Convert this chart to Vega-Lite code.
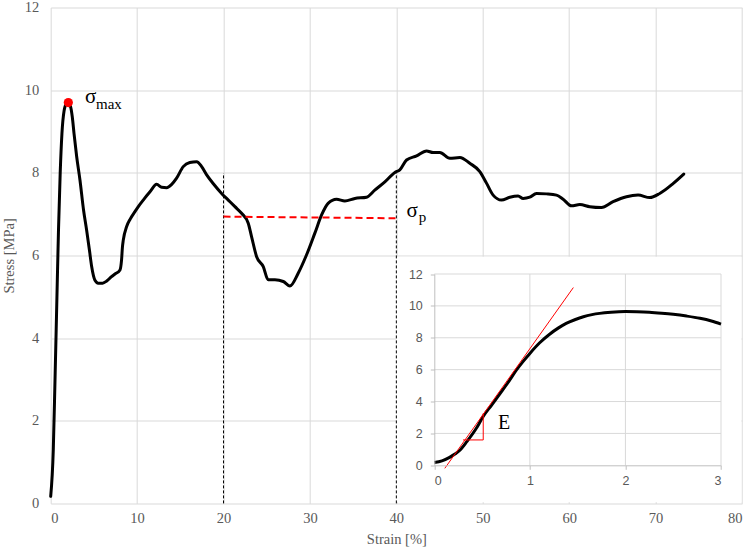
{
  "$schema": "https://vega.github.io/schema/vega-lite/v6.json",
  "width": 691.3,
  "height": 495.9,
  "autosize": {"type": "none"},
  "padding": {"left": 50.7, "top": 7.5, "right": 9, "bottom": 48.6},
  "background": "white",
  "config": {
    "view": {"stroke": null},
    "axis": {
      "gridColor": "#d9d9d9",
      "gridWidth": 1,
      "labelColor": "#595959",
      "titleColor": "#595959",
      "titleFontWeight": "normal"
    }
  },
  "datasets": {
    "main": [
      {"strain": 0, "stress": 0.17}, {"strain": 0.3, "stress": 1.3}, {"strain": 0.5, "stress": 3.0},
      {"strain": 0.7, "stress": 4.8}, {"strain": 0.9, "stress": 6.6}, {"strain": 1.1, "stress": 8.0},
      {"strain": 1.3, "stress": 8.95}, {"strain": 1.55, "stress": 9.5}, {"strain": 1.8, "stress": 9.66},
      {"strain": 2.05, "stress": 9.68}, {"strain": 2.3, "stress": 9.6}, {"strain": 2.5, "stress": 9.35},
      {"strain": 2.7, "stress": 8.95}, {"strain": 3.0, "stress": 8.4}, {"strain": 3.39, "stress": 7.82},
      {"strain": 3.8, "stress": 7.1}, {"strain": 4.16, "stress": 6.61}, {"strain": 4.5, "stress": 6.1},
      {"strain": 4.74, "stress": 5.73}, {"strain": 5.12, "stress": 5.4}, {"strain": 5.5, "stress": 5.33},
      {"strain": 6.0, "stress": 5.33}, {"strain": 6.48, "stress": 5.38}, {"strain": 7.0, "stress": 5.48},
      {"strain": 7.44, "stress": 5.55}, {"strain": 8.02, "stress": 5.65}, {"strain": 8.2, "stress": 5.89},
      {"strain": 8.3, "stress": 6.2}, {"strain": 8.4, "stress": 6.37}, {"strain": 8.79, "stress": 6.7},
      {"strain": 9.2, "stress": 6.88}, {"strain": 9.75, "stress": 7.06}, {"strain": 10.2, "stress": 7.2},
      {"strain": 10.71, "stress": 7.34}, {"strain": 11.49, "stress": 7.54}, {"strain": 12.26, "stress": 7.72},
      {"strain": 12.84, "stress": 7.65}, {"strain": 13.42, "stress": 7.64}, {"strain": 14.0, "stress": 7.72},
      {"strain": 14.57, "stress": 7.87}, {"strain": 15.34, "stress": 8.15}, {"strain": 16.1, "stress": 8.25},
      {"strain": 16.89, "stress": 8.27}, {"strain": 17.47, "stress": 8.15}, {"strain": 18.05, "stress": 7.95},
      {"strain": 18.8, "stress": 7.74}, {"strain": 19.78, "stress": 7.5}, {"strain": 20.55, "stress": 7.34},
      {"strain": 21.32, "stress": 7.18}, {"strain": 22.09, "stress": 7.02}, {"strain": 22.86, "stress": 6.78},
      {"strain": 23.25, "stress": 6.45}, {"strain": 23.83, "stress": 5.97}, {"strain": 24.6, "stress": 5.73},
      {"strain": 25.17, "stress": 5.41}, {"strain": 25.95, "stress": 5.41}, {"strain": 26.91, "stress": 5.37},
      {"strain": 27.68, "stress": 5.26}, {"strain": 28.64, "stress": 5.57}, {"strain": 29.6, "stress": 6.01},
      {"strain": 30.57, "stress": 6.54}, {"strain": 31.35, "stress": 6.98}, {"strain": 32.1, "stress": 7.26},
      {"strain": 33.08, "stress": 7.36}, {"strain": 34.04, "stress": 7.32}, {"strain": 35.2, "stress": 7.38},
      {"strain": 36.55, "stress": 7.41}, {"strain": 37.5, "stress": 7.58}, {"strain": 38.67, "stress": 7.78},
      {"strain": 39.83, "stress": 8.01}, {"strain": 40.4, "stress": 8.07}, {"strain": 41.18, "stress": 8.31},
      {"strain": 42.34, "stress": 8.41}, {"strain": 43.49, "stress": 8.53}, {"strain": 44.26, "stress": 8.49},
      {"strain": 45.03, "stress": 8.49}, {"strain": 46.19, "stress": 8.35}, {"strain": 47.35, "stress": 8.37},
      {"strain": 48.5, "stress": 8.23}, {"strain": 49.66, "stress": 8.03}, {"strain": 50.43, "stress": 7.75},
      {"strain": 51.2, "stress": 7.46}, {"strain": 52.17, "stress": 7.34}, {"strain": 53.13, "stress": 7.41},
      {"strain": 54.09, "stress": 7.44}, {"strain": 54.67, "stress": 7.38}, {"strain": 55.44, "stress": 7.41},
      {"strain": 56.22, "stress": 7.5}, {"strain": 57.37, "stress": 7.49}, {"strain": 58.53, "stress": 7.46},
      {"strain": 59.3, "stress": 7.36}, {"strain": 60.27, "stress": 7.2}, {"strain": 61.23, "stress": 7.23},
      {"strain": 62.38, "stress": 7.18}, {"strain": 63.73, "stress": 7.16}, {"strain": 65.08, "stress": 7.3},
      {"strain": 66.63, "stress": 7.42}, {"strain": 67.97, "stress": 7.46}, {"strain": 69.33, "stress": 7.4},
      {"strain": 70.48, "stress": 7.5}, {"strain": 72.02, "stress": 7.74}, {"strain": 73.26, "stress": 7.97}
    ],
    "inset": [
      {"strain": 0, "stress": 0.17}, {"strain": 0.08, "stress": 0.28}, {"strain": 0.16, "stress": 0.5},
      {"strain": 0.22, "stress": 0.72}, {"strain": 0.27, "stress": 0.96}, {"strain": 0.34, "stress": 1.48},
      {"strain": 0.44, "stress": 2.32}, {"strain": 0.51, "stress": 3.05}, {"strain": 0.6, "stress": 3.78},
      {"strain": 0.69, "stress": 4.52}, {"strain": 0.78, "stress": 5.27}, {"strain": 0.86, "stress": 5.98},
      {"strain": 0.93, "stress": 6.52}, {"strain": 1.0, "stress": 7.02}, {"strain": 1.1, "stress": 7.67},
      {"strain": 1.21, "stress": 8.24}, {"strain": 1.3, "stress": 8.62}, {"strain": 1.38, "stress": 8.9},
      {"strain": 1.47, "stress": 9.13}, {"strain": 1.56, "stress": 9.32}, {"strain": 1.65, "stress": 9.45},
      {"strain": 1.73, "stress": 9.53}, {"strain": 1.85, "stress": 9.6}, {"strain": 2.0, "stress": 9.64},
      {"strain": 2.12, "stress": 9.63}, {"strain": 2.25, "stress": 9.6}, {"strain": 2.38, "stress": 9.54},
      {"strain": 2.5, "stress": 9.47}, {"strain": 2.64, "stress": 9.36}, {"strain": 2.78, "stress": 9.22},
      {"strain": 2.9, "stress": 9.05}, {"strain": 3.0, "stress": 8.86}
    ]
  },
  "resolve": {"scale": {"x": "independent", "y": "independent"}},
  "layer": [
    {
      "data": {"values": [{"x1": 39.97, "x2": 79.93, "y1": 0.03, "y2": 5.97}]},
      "mark": {"type": "rect", "fill": "white", "strokeWidth": 0},
      "encoding": {
        "x": {"field": "x1", "type": "quantitative", "scale": {"domain": [0, 80], "nice": false, "zero": false}, "axis": null},
        "x2": {"field": "x2"},
        "y": {"field": "y1", "type": "quantitative", "scale": {"domain": [0, 12], "nice": false, "zero": false}, "axis": null},
        "y2": {"field": "y2"}
      }
    },
    {
      "data": {"name": "main"},
      "mark": {"type": "line", "color": "black", "strokeWidth": 3, "strokeJoin": "round", "strokeCap": "round", "interpolate": "monotone"},
      "encoding": {
        "x": {
          "field": "strain", "type": "quantitative",
          "scale": {"domain": [0, 80], "nice": false, "zero": false},
          "axis": {
            "title": "Strain [%]", "values": [0, 10, 20, 30, 40, 50, 60, 70, 80],
            "grid": true, "domain": false, "ticks": false,
            "labelFont": "Liberation Serif", "labelFontSize": 14.5, "labelPadding": 8,
            "titleFont": "Liberation Serif", "titleFontSize": 14.5, "titlePadding": 8
          }
        },
        "y": {
          "field": "stress", "type": "quantitative",
          "scale": {"domain": [0, 12], "nice": false, "zero": false},
          "axis": {
            "title": "Stress [MPa]", "values": [0, 2, 4, 6, 8, 10, 12],
            "grid": true, "domain": false, "ticks": false,
            "labelFont": "Liberation Serif", "labelFontSize": 14.5, "labelPadding": 12,
            "titleFont": "Liberation Serif", "titleFontSize": 14.5, "titlePadding": 8
          }
        }
      }
    },
    {
      "data": {"values": [{"x": 20, "y1": 0, "y2": 7.99}, {"x": 40, "y1": 0, "y2": 8.03}]},
      "mark": {"type": "rule", "color": "black", "strokeWidth": 1, "strokeDash": [3, 2]},
      "encoding": {
        "x": {"field": "x", "type": "quantitative", "scale": {"domain": [0, 80], "nice": false, "zero": false}, "axis": null},
        "y": {"field": "y1", "type": "quantitative", "scale": {"domain": [0, 12], "nice": false, "zero": false}, "axis": null},
        "y2": {"field": "y2"}
      }
    },
    {
      "data": {"values": [{"x": 20, "y": 6.94}, {"x": 40, "y": 6.9}]},
      "mark": {"type": "line", "color": "#ff0000", "strokeWidth": 2, "strokeDash": [7, 4]},
      "encoding": {
        "x": {"field": "x", "type": "quantitative", "scale": {"domain": [0, 80], "nice": false, "zero": false}, "axis": null},
        "y": {"field": "y", "type": "quantitative", "scale": {"domain": [0, 12], "nice": false, "zero": false}, "axis": null}
      }
    },
    {
      "data": {"values": [{"x": 2.04, "y": 9.7}]},
      "mark": {"type": "circle", "color": "#ff0000", "opacity": 1, "size": 85},
      "encoding": {
        "x": {"field": "x", "type": "quantitative", "scale": {"domain": [0, 80], "nice": false, "zero": false}, "axis": null},
        "y": {"field": "y", "type": "quantitative", "scale": {"domain": [0, 12], "nice": false, "zero": false}, "axis": null}
      }
    },
    {
      "data": {"values": [{"x": 3.97, "y": 9.69, "t": "σ"}, {"x": 41.18, "y": 6.93, "t": "σ"}]},
      "mark": {"type": "text", "font": "Liberation Serif", "fontSize": 21, "align": "left", "baseline": "alphabetic", "color": "black"},
      "encoding": {
        "x": {"field": "x", "type": "quantitative", "scale": {"domain": [0, 80], "nice": false, "zero": false}, "axis": null},
        "y": {"field": "y", "type": "quantitative", "scale": {"domain": [0, 12], "nice": false, "zero": false}, "axis": null},
        "text": {"field": "t"}
      }
    },
    {
      "data": {"values": [{"x": 5.24, "y": 9.54, "t": "max"}, {"x": 42.6, "y": 6.8, "t": "p"}]},
      "mark": {"type": "text", "font": "Liberation Serif", "fontSize": 15, "align": "left", "baseline": "alphabetic", "color": "black"},
      "encoding": {
        "x": {"field": "x", "type": "quantitative", "scale": {"domain": [0, 80], "nice": false, "zero": false}, "axis": null},
        "y": {"field": "y", "type": "quantitative", "scale": {"domain": [0, 12], "nice": false, "zero": false}, "axis": null},
        "text": {"field": "t"}
      }
    },
    {
      "data": {"values": [{"g": 2}, {"g": 4}, {"g": 6}, {"g": 8}, {"g": 10}, {"g": 12}]},
      "mark": {"type": "rule", "color": "#d9d9d9", "strokeWidth": 1},
      "encoding": {
        "y": {"field": "g", "type": "quantitative", "scale": {"domain": [0, 12], "nice": false, "zero": false, "range": [457.8, 266.5]}, "axis": null},
        "x": {"datum": 0, "type": "quantitative", "scale": {"domain": [0, 3], "nice": false, "zero": false, "range": [383.6, 670.3]}, "axis": null},
        "x2": {"datum": 3}
      }
    },
    {
      "data": {"values": [{"g": 1}, {"g": 2}, {"g": 3}]},
      "mark": {"type": "rule", "color": "#d9d9d9", "strokeWidth": 1},
      "encoding": {
        "x": {"field": "g", "type": "quantitative", "scale": {"domain": [0, 3], "nice": false, "zero": false, "range": [383.6, 670.3]}, "axis": null},
        "y": {"datum": 0, "type": "quantitative", "scale": {"domain": [0, 12], "nice": false, "zero": false, "range": [457.8, 266.5]}, "axis": null},
        "y2": {"datum": 12}
      }
    },
    {
      "data": {"name": "inset"},
      "mark": {"type": "line", "color": "black", "strokeWidth": 3, "strokeJoin": "round", "interpolate": "monotone"},
      "encoding": {
        "x": {
          "field": "strain", "type": "quantitative",
          "scale": {"domain": [0, 3], "nice": false, "zero": false, "range": [383.6, 670.3]},
          "axis": {
            "orient": "bottom", "offset": -38.1, "title": null, "values": [0, 1, 2, 3],
            "grid": false, "domain": true, "domainColor": "#bfbfbf", "ticks": true, "tickColor": "#bfbfbf", "tickSize": 4,
            "labelFont": "Liberation Sans", "labelFontSize": 12.5, "labelPadding": 5, "zindex": 1
          }
        },
        "y": {
          "field": "stress", "type": "quantitative",
          "scale": {"domain": [0, 12], "nice": false, "zero": false, "range": [457.8, 266.5]},
          "axis": {
            "orient": "left", "offset": -383.6, "title": null, "values": [0, 2, 4, 6, 8, 10, 12],
            "grid": false, "domain": true, "domainColor": "#bfbfbf", "ticks": true, "tickColor": "#bfbfbf", "tickSize": 4,
            "labelFont": "Liberation Sans", "labelFontSize": 12.5, "labelPadding": 8, "zindex": 1
          }
        }
      }
    },
    {
      "data": {"values": [{"x": 0.11, "y": -0.19}, {"x": 1.455, "y": 11.15}]},
      "mark": {"type": "line", "color": "#ff0000", "strokeWidth": 1},
      "encoding": {
        "x": {"field": "x", "type": "quantitative", "scale": {"domain": [0, 3], "nice": false, "zero": false, "range": [383.6, 670.3]}, "axis": null},
        "y": {"field": "y", "type": "quantitative", "scale": {"domain": [0, 12], "nice": false, "zero": false, "range": [457.8, 266.5]}, "axis": null}
      }
    },
    {
      "data": {"values": [{"o": 1, "x": 0.3, "y": 1.59}, {"o": 2, "x": 0.512, "y": 1.59}, {"o": 3, "x": 0.512, "y": 3.26}]},
      "mark": {"type": "line", "color": "#ff0000", "strokeWidth": 1},
      "encoding": {
        "x": {"field": "x", "type": "quantitative", "scale": {"domain": [0, 3], "nice": false, "zero": false, "range": [383.6, 670.3]}, "axis": null},
        "y": {"field": "y", "type": "quantitative", "scale": {"domain": [0, 12], "nice": false, "zero": false, "range": [457.8, 266.5]}, "axis": null},
        "order": {"field": "o"}
      }
    },
    {
      "data": {"values": [{"x": 0.666, "y": 2.26, "t": "E"}]},
      "mark": {"type": "text", "font": "Liberation Serif", "fontSize": 20, "align": "left", "baseline": "alphabetic", "color": "black"},
      "encoding": {
        "x": {"field": "x", "type": "quantitative", "scale": {"domain": [0, 3], "nice": false, "zero": false, "range": [383.6, 670.3]}, "axis": null},
        "y": {"field": "y", "type": "quantitative", "scale": {"domain": [0, 12], "nice": false, "zero": false, "range": [457.8, 266.5]}, "axis": null},
        "text": {"field": "t"}
      }
    }
  ]
}
